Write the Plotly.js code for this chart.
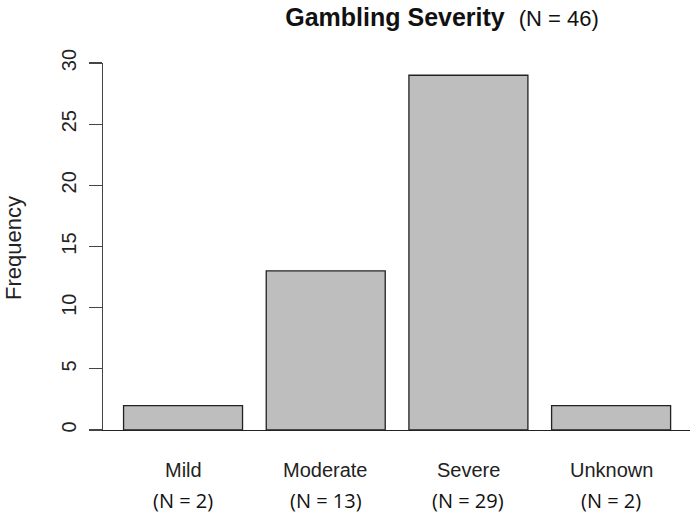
<!DOCTYPE html>
<html>
<head>
<meta charset="utf-8">
<script src="https://cdn.plot.ly/plotly-3.0.1.min.js"></script>
<style>html,body{margin:0;padding:0;background:#fff;}#chart{width:696px;height:513px;}</style>
</head>
<body>
<div id="chart"></div>
<script>
const categories = ["Mild", "Moderate", "Severe", "Unknown"];
const countLabels = ["(N = 2)", "(N = 13)", "(N = 29)", "(N = 2)"];
const frequencies = [2, 13, 29, 2];
const yTicks = [0, 5, 10, 15, 20, 25, 30];
const titleMain = "Gambling Severity";
const titleSub = "(N = 46)";
const yLabel = "Frequency";

const axisFont = {family: "Liberation Sans, Arial, sans-serif", size: 20, color: "#222"};
const nFont = {family: "Open Sans, Lato, sans-serif", size: 20, color: "#111"};

const H = 513, mt = 63, mb = 83, ph = H - mt - mb;
const py = p => (H - mb - p) / ph;

const annotations = [];
categories.forEach((c, i) => {
  annotations.push({x: c, xref: "x", y: py(470), yref: "paper", text: c, showarrow: false,
    font: axisFont, xanchor: "center", yanchor: "middle"});
  annotations.push({x: c, xref: "x", y: py(500), yref: "paper", text: countLabels[i], showarrow: false,
    font: nFont, xanchor: "center", yanchor: "middle"});
});
annotations.push({x: (13 - 103) / 587, xref: "paper", y: py(248), yref: "paper", text: yLabel, showarrow: false,
  textangle: -90, font: {family: "Liberation Sans, Arial, sans-serif", size: 22, color: "#222"},
  xanchor: "center", yanchor: "middle"});

const data = [{
  type: "bar",
  x: categories,
  y: frequencies,
  marker: {color: "#bebebe", line: {color: "#222", width: 1.3}},
  hoverinfo: "none"
}];

const layout = {
  width: 696, height: 513,
  margin: {l: 103, r: 6, t: mt, b: mb, pad: 0},
  paper_bgcolor: "#fff", plot_bgcolor: "#fff",
  bargap: 0.166,
  showlegend: false,
  title: {
    text: "<b>" + titleMain + "</b>  <span style='font-size:22px'>" + titleSub + "</span>",
    x: 442 / 696, xanchor: "center", xref: "container",
    y: 1 - 17 / 513, yanchor: "middle", yref: "container",
    font: {family: "Liberation Sans, Arial, sans-serif", size: 25, color: "#111"}
  },
  xaxis: {
    type: "category",
    range: [-0.561, 3.553],
    showticklabels: false, ticks: "", showgrid: false, zeroline: false,
    showline: true, linecolor: "#222", linewidth: 1.3, fixedrange: true
  },
  yaxis: {
    range: [0, 30],
    tickvals: yTicks, ticktext: yTicks.map(String),
    tickangle: -90, ticks: "outside", ticklen: 13, tickwidth: 1.3, tickcolor: "#444",
    ticklabelstandoff: 5,
    tickfont: axisFont,
    showgrid: false, zeroline: false,
    showline: true, linecolor: "#444", linewidth: 1.3, fixedrange: true
  },
  annotations: annotations
};

Plotly.newPlot("chart", data, layout, {displayModeBar: false, staticPlot: true});
</script>
</body>
</html>
